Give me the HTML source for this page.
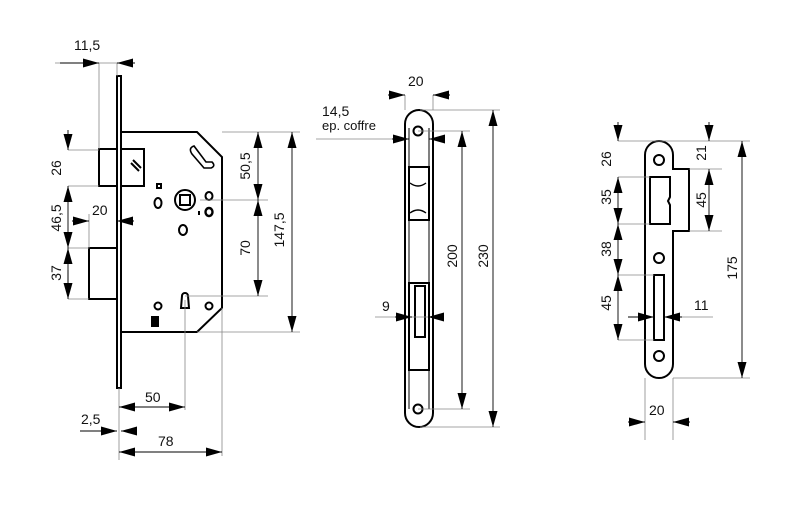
<!DOCTYPE html>
<html><head><style>
html,body{margin:0;padding:0;background:#fff;}
svg{display:block;}
text{font-family:"Liberation Sans",sans-serif;font-size:14px;fill:#111;}
</style></head><body>
<svg width="800" height="508" viewBox="0 0 800 508" xmlns="http://www.w3.org/2000/svg">
<defs>
<marker id="a" markerUnits="userSpaceOnUse" markerWidth="18" markerHeight="10" refX="16" refY="4.5" orient="auto">
<path d="M0,0 L16,4.5 L0,9 z" fill="#000"/>
</marker>
</defs>
<g stroke="#000" fill="none" stroke-width="2">
<!-- LOCK BODY -->
<rect x="117" y="76" width="4" height="312" fill="#fff"/>
<path d="M121,132 L197,132 L222,157 L222,308 L197,332 L121,332"/>
<rect x="99" y="149" width="18" height="37"/>
<rect x="121" y="149" width="23" height="37"/>
<rect x="89" y="248" width="28" height="51"/>
<path d="M131,163 l8,8 M133,160 l8,8" stroke-width="2"/>
<path d="M192,154 q-4,-6 2,-8 l12,16 l6,0 q4,4 -1,6 l-7,0 z" stroke-width="1.6"/>
<circle cx="185" cy="200" r="10"/>
<rect x="180" y="195" width="10" height="10"/>
<ellipse cx="158" cy="203" rx="3.5" ry="5"/>
<rect x="157" y="184" width="4" height="4"/>
<ellipse cx="209" cy="196" rx="3.5" ry="4"/>
<ellipse cx="209" cy="212" rx="3.5" ry="4" stroke-width="2.4"/>
<ellipse cx="183" cy="230" rx="4" ry="5"/>
<path d="M199,211 v4" stroke-width="2"/>
<path d="M182,296 a3,3 0 1 1 6,0 l1,12 h-8 z"/>
<circle cx="158" cy="306" r="3.5"/>
<circle cx="209" cy="306" r="3.5"/>
<rect x="152" y="317" width="6" height="9" fill="#000"/>
</g>
<g stroke="#888" stroke-width="0.8" fill="none">
<path d="M55,63 H135 M99,63 V149 M117,63 V76"/>
<path d="M68,150 H99 M68,186 H99 M68,248 H89 M68,299 H89"/>
<path d="M89,214 V248"/>
<path d="M200,200 H268 M185,296 H268 M222,132 H300 M197,332 H300"/>
<path d="M185,300 V410 M222,308 V456 M119,388 V460"/>
</g>
<g stroke="#000" stroke-width="0.9" fill="none" marker-end="url(#a)">
<path d="M60,63 H99"/><path d="M135,63 H117"/>
<path d="M68,130 V150"/><path d="M68,206 V186"/>
<path d="M68,206 V248"/><path d="M68,286 V248"/>
<path d="M68,270 V299"/>
<path d="M72,221 H89"/><path d="M134,221 H117"/>
<path d="M258,170 V132"/><path d="M258,170 V200"/>
<path d="M258,250 V200"/><path d="M258,250 V296"/>
<path d="M292,230 V132"/><path d="M292,230 V332"/>
<path d="M150,407 H119"/><path d="M150,407 H185"/>
<path d="M80,431 H117"/><path d="M137,431 H121"/>
<path d="M170,452 H119"/><path d="M170,452 H222"/>
</g>
<text x="74" y="50">11,5</text>
<text transform="translate(61,168) rotate(-90)" text-anchor="middle">26</text>
<text transform="translate(61,218) rotate(-90)" text-anchor="middle">46,5</text>
<text transform="translate(61,273) rotate(-90)" text-anchor="middle">37</text>
<text x="92" y="215">20</text>
<text transform="translate(250,166) rotate(-90)" text-anchor="middle">50,5</text>
<text transform="translate(250,248) rotate(-90)" text-anchor="middle">70</text>
<text transform="translate(284,230) rotate(-90)" text-anchor="middle">147,5</text>
<text x="145" y="402">50</text>
<text x="81" y="424">2,5</text>
<text x="158" y="446">78</text>

<!-- FACEPLATE -->
<g stroke="#000" fill="none" stroke-width="2">
<rect x="405" y="110" width="28" height="317" rx="14"/>
<path d="M409,128 V409 M429,128 V409" stroke-width="1"/>
<circle cx="418" cy="131" r="4.5"/>
<circle cx="418" cy="409" r="4.5"/>
<rect x="409" y="167" width="20" height="53"/>
<path d="M410,183 q8,6 16,0 M410,213 q8,-6 16,0" stroke-width="1.4"/>
<rect x="409" y="283" width="20" height="87"/>
<rect x="415" y="286" width="10" height="51"/>
</g>
<g stroke="#888" stroke-width="0.8" fill="none">
<path d="M405,95 V110 M433,95 V110"/>
<path d="M316,139 H409"/>
<path d="M418,131 H470 M418,409 H470 M420,110 H500 M420,427 H500"/>
<path d="M375,317 H440"/>
</g>
<g stroke="#000" stroke-width="0.9" fill="none" marker-end="url(#a)">
<path d="M388,95 H405"/><path d="M450,95 H433"/>
<path d="M392,139 H409"/><path d="M445,139 H429"/>
<path d="M462,260 V131"/><path d="M462,260 V409"/>
<path d="M493,260 V110"/><path d="M493,260 V427"/>
<path d="M395,317 H412"/><path d="M440,317 H428"/>
</g>
<text x="408" y="86">20</text>
<text x="322" y="116">14,5</text>
<text x="322" y="130" style="font-size:13px">ep. coffre</text>
<text transform="translate(457,256) rotate(-90)" text-anchor="middle">200</text>
<text transform="translate(488,256) rotate(-90)" text-anchor="middle">230</text>
<text x="382" y="311">9</text>

<!-- STRIKE -->
<g stroke="#000" fill="none" stroke-width="2">
<path d="M645,155 A14,14 0 0 1 673,155 V169 H689 V231 H673 V364 A14,14 0 0 1 645,364 Z"/>
<circle cx="659" cy="160" r="5"/>
<circle cx="659" cy="258" r="5"/>
<circle cx="659" cy="356" r="5"/>
<path d="M650,177 H670 V197 l-2,4 l2,4 V224 H650 Z"/>
<rect x="654" y="275" width="10" height="65"/>
</g>
<g stroke="#888" stroke-width="0.8" fill="none">
<path d="M618,141 H750 M618,177 H650 M618,224 H650 M618,275 H654 M618,340 H654"/>
<path d="M689,169 H722 M689,231 H722 M673,378 H750"/>
<path d="M645,378 V440 M673,378 V440"/>
<path d="M664,317 H713"/>
</g>
<g stroke="#000" stroke-width="0.9" fill="none" marker-end="url(#a)">
<path d="M618,122 V141"/><path d="M618,195 V177"/>
<path d="M618,195 V224"/><path d="M618,250 V224"/>
<path d="M618,250 V275"/><path d="M618,305 V275"/>
<path d="M618,305 V340"/>
<path d="M709,122 V141"/><path d="M709,200 V169"/><path d="M709,200 V231"/>
<path d="M742,260 V141"/><path d="M742,260 V378"/>
<path d="M628,317 H654"/><path d="M682,317 H664"/>
<path d="M628,422 H645"/><path d="M690,422 H673"/>
</g>
<text transform="translate(611,159) rotate(-90)" text-anchor="middle">26</text>
<text transform="translate(611,197) rotate(-90)" text-anchor="middle">35</text>
<text transform="translate(611,249) rotate(-90)" text-anchor="middle">38</text>
<text transform="translate(611,303) rotate(-90)" text-anchor="middle">45</text>
<text transform="translate(706,153) rotate(-90)" text-anchor="middle">21</text>
<text transform="translate(706,200) rotate(-90)" text-anchor="middle">45</text>
<text transform="translate(737,268) rotate(-90)" text-anchor="middle">175</text>
<text x="694" y="310">11</text>
<text x="649" y="415">20</text>
</svg>
</body></html>
